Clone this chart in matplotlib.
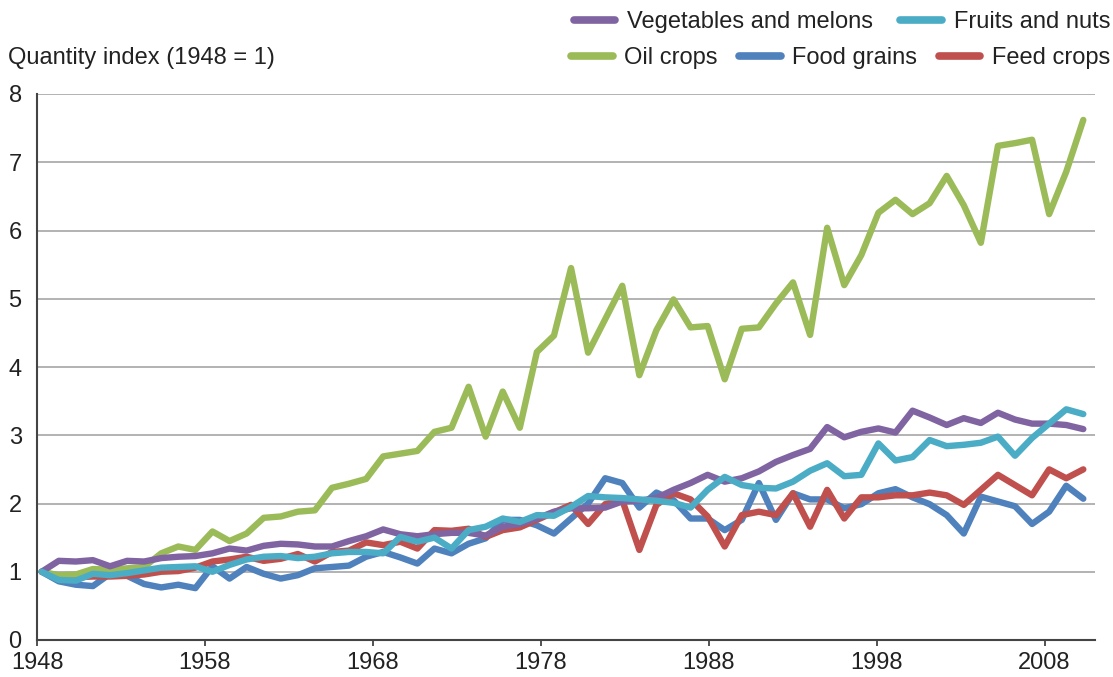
import numpy as np
import matplotlib
matplotlib.use("Agg")
import matplotlib.pyplot as plt
from matplotlib.lines import Line2D

plt.rcParams['font.family'] = ['Liberation Sans', 'DejaVu Sans']

# Crop output quantity index by commodity group (1948 = 1), 1948-2009
years = np.arange(1948, 2010)

vegetables = [1.0, 1.16, 1.15, 1.17, 1.08, 1.16, 1.15, 1.2, 1.22, 1.23, 1.27, 1.34, 1.31, 1.38, 1.41, 1.40,
              1.37, 1.37, 1.45, 1.52, 1.62, 1.55, 1.52, 1.55, 1.57, 1.57, 1.53, 1.66, 1.70, 1.78, 1.88,
              1.93, 1.93, 1.94, 2.03, 2.04, 2.08, 2.2, 2.30, 2.42, 2.32, 2.37, 2.47, 2.61, 2.71, 2.80,
              3.12, 2.97, 3.05, 3.10, 3.04, 3.36, 3.26, 3.15, 3.25, 3.18, 3.33, 3.23, 3.17, 3.17, 3.15, 3.09]
fruits = [1.0, 0.88, 0.87, 0.97, 0.95, 0.98, 1.02, 1.06, 1.07, 1.08, 1.0, 1.1, 1.18, 1.22, 1.23, 1.20,
          1.22, 1.27, 1.29, 1.29, 1.27, 1.51, 1.44, 1.50, 1.34, 1.61, 1.66, 1.78, 1.73, 1.83, 1.82,
          1.95, 2.11, 2.09, 2.08, 2.06, 2.04, 2.01, 1.94, 2.20, 2.39, 2.27, 2.23, 2.22, 2.32, 2.48,
          2.59, 2.40, 2.42, 2.88, 2.63, 2.68, 2.93, 2.84, 2.86, 2.89, 2.98, 2.70, 2.96, 3.17, 3.38, 3.31]
oil = [1.0, 0.95, 0.96, 1.04, 1.03, 1.05, 1.07, 1.27, 1.37, 1.32, 1.59, 1.45, 1.56, 1.79, 1.81, 1.88,
       1.9, 2.23, 2.29, 2.36, 2.69, 2.73, 2.77, 3.05, 3.11, 3.71, 2.98, 3.64, 3.11, 4.22, 4.46,
       5.45, 4.21, 4.70, 5.19, 3.88, 4.54, 4.99, 4.58, 4.60, 3.82, 4.56, 4.58, 4.93, 5.24, 4.47,
       6.04, 5.2, 5.64, 6.26, 6.45, 6.24, 6.4, 6.8, 6.37, 5.82, 7.24, 7.28, 7.33, 6.24, 6.86, 7.62]
food_grains = [1.0, 0.86, 0.81, 0.79, 0.97, 0.94, 0.82, 0.77, 0.81, 0.76, 1.08, 0.9, 1.07, 0.97, 0.9, 0.95,
               1.05, 1.07, 1.09, 1.22, 1.29, 1.21, 1.12, 1.34, 1.27, 1.41, 1.49, 1.76, 1.76, 1.68, 1.56,
               1.78, 2.0, 2.37, 2.30, 1.94, 2.16, 2.05, 1.78, 1.78, 1.61, 1.76, 2.30, 1.76, 2.15, 2.06,
               2.06, 1.93, 1.99, 2.15, 2.21, 2.09, 1.99, 1.83, 1.56, 2.10, 2.03, 1.96, 1.70, 1.88, 2.26, 2.07]
feed = [1.0, 0.93, 0.92, 0.93, 0.93, 0.94, 0.96, 1.0, 1.01, 1.06, 1.15, 1.18, 1.22, 1.16, 1.19, 1.26,
        1.15, 1.29, 1.31, 1.43, 1.39, 1.44, 1.34, 1.61, 1.60, 1.63, 1.51, 1.61, 1.65, 1.76, 1.87,
        1.98, 1.70, 1.99, 2.05, 1.32, 1.98, 2.15, 2.06, 1.81, 1.37, 1.83, 1.88, 1.83, 2.15, 1.66,
        2.20, 1.78, 2.09, 2.09, 2.12, 2.12, 2.16, 2.12, 1.98, 2.20, 2.42, 2.27, 2.12, 2.50, 2.37, 2.50]

tick_years = [1948, 1958, 1968, 1978, 1988, 1998, 2008]

c_veg = '#8064A2'
c_fruit = '#4BACC6'
c_oil = '#9BBB59'
c_grain = '#4F81BD'
c_feed = '#C0504D'

W, H = 1113, 677
fig = plt.figure(figsize=(W / 100, H / 100), dpi=100)
ax = fig.add_axes([37 / W, (H - 640) / H, (1095 - 37) / W, (640 - 94) / H])

lw = 4.6
# drawing order: grains at the bottom, fruits on top
for vals, col in [(food_grains, c_grain), (feed, c_feed), (oil, c_oil),
                  (vegetables, c_veg), (fruits, c_fruit)]:
    ax.plot(years, vals, color=col, lw=lw, solid_capstyle='round',
            solid_joinstyle='round', zorder=3)

ax.set_xlim(1947.725, 2009.685)
ax.set_ylim(0, 8)
ax.set_yticks(range(0, 9))
ax.yaxis.grid(True, color='#a6a6a6', lw=1.2, zorder=0)
ax.set_axisbelow(True)
ax.tick_params(axis='y', length=0, pad=11, labelsize=17, colors='#222222')
ax.set_xticks([])
for s in ['top', 'right']:
    ax.spines[s].set_visible(False)
for s in ['left', 'bottom']:
    ax.spines[s].set_color('#444444')
    ax.spines[s].set_linewidth(1.5)

# category axis for the year labels
ax2 = ax.twiny()
ax2.set_xlim(1948, 2011)
ax2.xaxis.set_ticks_position('bottom')
ax2.set_xticks(tick_years)
ax2.set_xticklabels([str(y) for y in tick_years])
ax2.tick_params(axis='x', direction='out', length=4.5, width=1.3, color='#444444',
                labelsize=17, pad=4, labelcolor='#222222')
for s in ax2.spines.values():
    s.set_visible(False)

fig.text(8 / W, 1 - 58 / H, 'Quantity index (1948 = 1)', ha='left', va='center',
         fontsize=17, color='#222222')

def handle(col):
    return Line2D([], [], color=col, lw=5.5, solid_capstyle='round')

leg_kw = dict(loc='center right', frameon=False, fontsize=17, handlelength=1.75,
              handletextpad=0.5, borderpad=0, borderaxespad=0,
              bbox_transform=fig.transFigure, labelcolor='#222222')
leg1 = fig.legend([handle(c_veg), handle(c_fruit)], ['Vegetables and melons', 'Fruits and nuts'],
                  ncol=2, columnspacing=1.15, bbox_to_anchor=(1110 / W, 1 - 22 / H), **leg_kw)
leg2 = fig.legend([handle(c_oil), handle(c_grain), handle(c_feed)],
                  ['Oil crops', 'Food grains', 'Feed crops'],
                  ncol=3, columnspacing=0.9, bbox_to_anchor=(1110 / W, 1 - 58 / H), **leg_kw)

fig.savefig('out.png', dpi=100)
